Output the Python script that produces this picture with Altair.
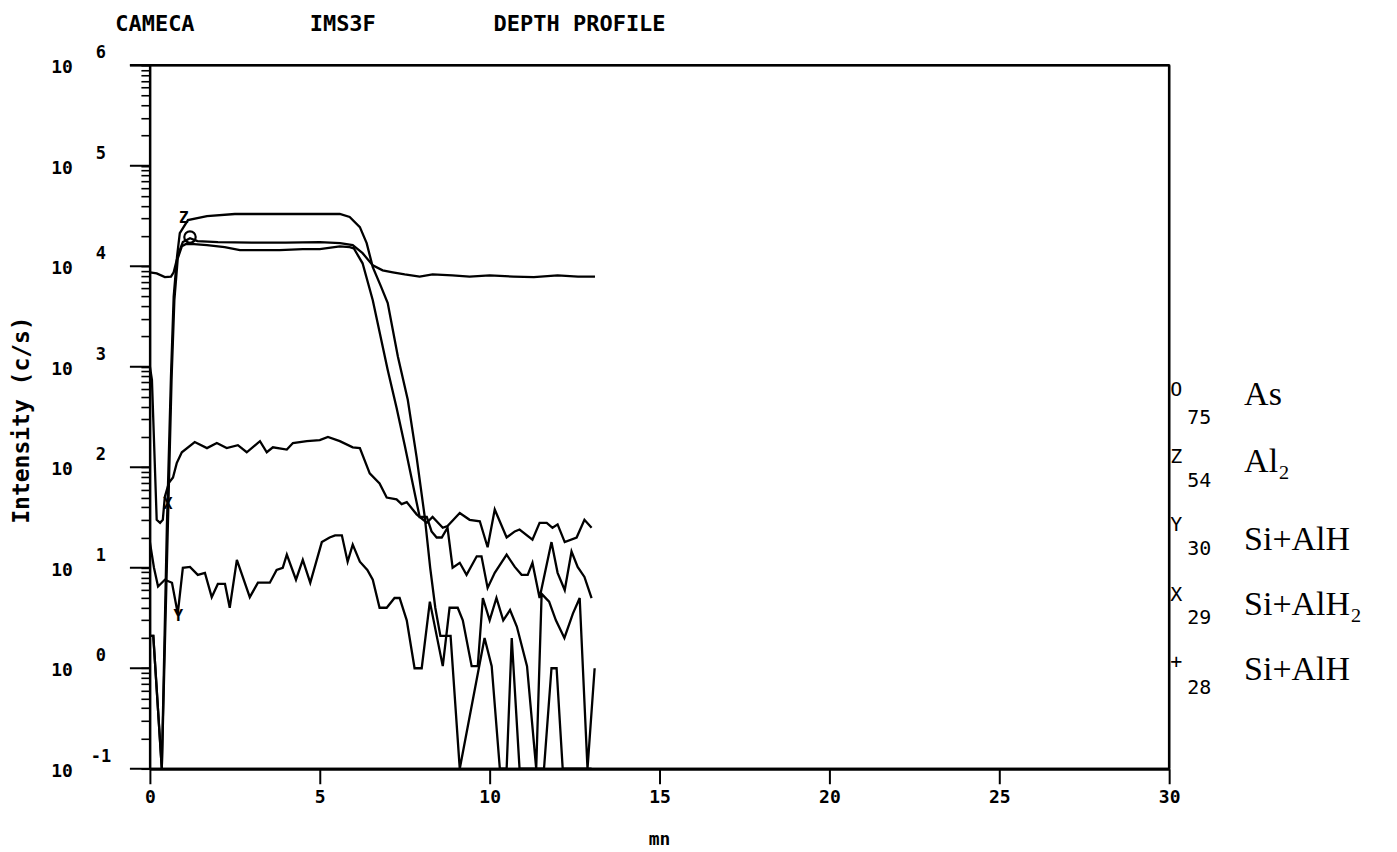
import altair as alt
import pandas as pd

# ---------------- data (time in mn, intensity in c/s) ----------------
# O 75 As
as_t = [0.0, 0.2, 0.44, 0.62, 0.7, 0.79, 0.88, 0.97, 1.18, 1.4, 2.0, 3.0, 4.0, 5.0, 5.6, 5.97,
        6.26, 6.56, 6.85, 7.15, 7.5, 7.94, 8.32, 8.9, 9.41, 10.0, 10.7, 11.3, 12.0, 12.6, 13.1]
as_v = [8700, 8500, 7800, 7900, 8700, 11500, 14500, 17400, 19000, 17800, 17400, 17200, 17200, 17400,
        17000, 16200, 13500, 10200, 9100, 8700, 8300, 7900, 8300, 8100, 7900, 8100, 7900, 7800, 8100,
        7900, 7900]

# Z 54 Al2
al2_t = [0.0, 0.1, 0.35, 0.5, 0.62, 0.7, 0.8, 0.88, 1.12, 1.68, 2.5, 3.5, 4.5, 5.59, 5.88, 6.18,
         6.38, 6.56, 6.8, 7.0, 7.3, 7.59, 7.85, 8.09, 8.25, 8.4, 8.55, 8.7, 8.85, 9.12, 9.85, 10.06,
         10.3, 10.5, 10.65, 10.88, 11.6, 11.82, 11.97, 12.15, 13.0]
al2_v = [2.1, 2.1, 0.1, 26, 800, 5000, 12600, 21400, 28800, 31600, 33100, 33100, 33100, 33100,
         30900, 24500, 17000, 9800, 6300, 4300, 1260, 470, 126, 32, 10, 4.0, 2.1, 2.1, 2.1, 0.1,
         2.0, 1.05, 0.1, 0.1, 2.0, 0.1, 0.1, 1.0, 1.0, 0.1, 0.1]

# Y 30 Si+AlH
y30_t = [0.0, 0.12, 0.24, 0.44, 0.65, 0.82, 0.97, 1.18, 1.41, 1.62, 1.82, 2.0, 2.21, 2.35, 2.56,
         2.94, 3.18, 3.53, 3.73, 3.91, 4.03, 4.3, 4.5, 4.72, 5.06, 5.29, 5.45, 5.65, 5.82, 5.97,
         6.18, 6.4, 6.56, 6.76, 6.97, 7.2, 7.35, 7.56, 7.79, 8.0, 8.24, 8.62, 8.82, 9.06, 9.21,
         9.47, 9.65, 9.8, 10.0, 10.2, 10.4, 10.6, 10.8, 11.1, 11.37, 11.53, 11.75, 11.95, 12.2,
         12.45, 12.65, 12.88, 13.09]
y30_v = [18, 10, 6.5, 7.6, 7.1, 3.5, 10, 10.2, 8.5, 8.9, 5.1, 6.9, 6.9, 4.0, 12, 5.1, 7.1, 7.1,
         9.5, 10, 13.5, 7.6, 12, 7.1, 18, 20, 21, 21, 11.5, 17, 11.5, 9.5, 7.6, 4.0, 4.0, 5.0, 5.0,
         3.0, 1.0, 1.0, 4.6, 1.05, 4.0, 4.0, 3.0, 1.05, 1.05, 5.0, 3.0, 5.0, 3.0, 3.8, 2.6, 1.05,
         0.1, 5.5, 4.6, 3.0, 2.0, 3.5, 5.0, 0.1, 1.0]

# X 29 Si+AlH2
x29_t = [0.0, 0.06, 0.2, 0.3, 0.38, 0.44, 0.56, 0.68, 0.79, 0.94, 1.32, 1.68, 1.97, 2.26, 2.59,
         2.85, 3.24, 3.44, 3.62, 4.03, 4.21, 4.62, 5.0, 5.24, 5.59, 5.97, 6.18, 6.47, 6.76, 6.97,
         7.26, 7.41, 7.56, 7.85, 8.15, 8.32, 8.62, 8.76, 9.12, 9.41, 9.71, 9.94, 10.15, 10.5,
         10.74, 10.88, 11.26, 11.47, 11.68, 11.85, 12.0, 12.21, 12.56, 12.79, 13.0]
x29_v = [1000, 740, 30, 28, 30, 51, 70, 79, 110, 141, 178, 155, 174, 155, 166, 141, 182, 141, 158,
         150, 174, 182, 186, 200, 182, 158, 155, 87, 69, 50, 48, 43, 45, 34, 28, 32, 25, 26, 35,
         30, 29, 16, 38, 20, 23, 24, 19, 28, 28, 25, 27, 18, 20, 30, 25]

# + 28 Si+AlH
p28_t = [0.0, 0.1, 0.35, 0.52, 0.64, 0.72, 0.82, 0.94, 1.05, 1.3, 1.68, 2.2, 2.65, 3.3, 3.82, 4.5,
         5.0, 5.59, 5.88, 6.0, 6.26, 6.56, 7.0, 7.26, 7.5, 7.94, 8.15, 8.29, 8.44, 8.59, 8.76,
         8.91, 9.12, 9.32, 9.62, 9.76, 9.94, 10.15, 10.5, 10.74, 10.94, 11.12, 11.26, 11.47,
         11.82, 12.0, 12.21, 12.41, 12.59, 12.79, 13.0]
p28_v = [2.1, 2.1, 0.1, 20, 800, 4600, 12000, 15800, 16600, 16600, 16200, 15500, 14500, 14500,
         14500, 14800, 14800, 15800, 15500, 15100, 10700, 4600, 930, 390, 166, 32, 32, 23, 20, 20,
         25, 10, 11.2, 8.5, 13, 13, 6.3, 8.9, 13.5, 10.2, 8.5, 8.5, 11.2, 5.0, 18, 8.9, 6.0, 14.5,
         10.2, 8.1, 5.0]

# axis labels
x_ticks = [0, 5, 10, 15, 20, 25, 30]
decade_values = [0.1, 1, 10, 100, 1000, 10000, 100000, 1000000]
decade_exps = ["-1", "0", "1", "2", "3", "4", "5", "6"]

# curve markers (letter, time, intensity)
mark_letters = ["Z", "X", "Y"]
mark_t = [1.0, 0.53, 0.84]
mark_v = [30000, 43, 3.3]
circle_t = [1.18]
circle_v = [19500]

# legend
leg_marks = ["O", "Z", "Y", "X", "+"]
leg_mass = ["75", "54", "30", "29", "28"]
leg_names = ["As", "Al\u2082", "Si+AlH", "Si+AlH\u2082", "Si+AlH"]

# ---------------- build ----------------
series = [("As", as_t, as_v), ("Al2", al2_t, al2_v), ("Si30", y30_t, y30_v),
          ("Si29", x29_t, x29_v), ("Si28", p28_t, p28_v)]
rows = []
for name, ts, vs in series:
    for t, v in zip(ts, vs):
        rows.append({"series": name, "t": t, "v": v})
df = pd.DataFrame(rows)

W, H = 1020, 704
MONO = "DejaVu Sans Mono"
SERIF = "Liberation Serif"
xs = alt.Scale(domain=[0, 30], nice=False, zero=False)
ys = alt.Scale(type="log", domain=[0.1, 1e6], nice=False)

minor_ticks = [m * 10.0 ** e for e in range(-1, 6) for m in range(1, 10)] + [1e6]

x_axis = alt.Axis(
    values=x_ticks, tickSize=15, tickWidth=2, tickColor="black",
    labelFont=MONO, labelFontSize=18, labelFontWeight="bold", labelColor="black",
    labelPadding=5, labelFlush=False, domainWidth=3, domainColor="black",
    grid=False, title=None)
y_axis = alt.Axis(
    values=minor_ticks, tickSize=9, tickWidth=1.6, tickColor="black", labels=False,
    domainWidth=2, domainColor="black", grid=False, title=None)

lines = alt.Chart(df).mark_line(color="black", strokeWidth=2.3, clip=True).encode(
    x=alt.X("t:Q", scale=xs, axis=x_axis),
    y=alt.Y("v:Q", scale=ys, axis=y_axis),
    detail="series:N",
)

dec_df = pd.DataFrame({"v": decade_values, "e": decade_exps})
major = alt.Chart(dec_df).mark_rule(color="black", strokeWidth=2).encode(
    y=alt.Y("v:Q", scale=ys, axis=y_axis), x=alt.value(-20), x2=alt.value(0))
tens = alt.Chart(dec_df).mark_text(font=MONO, fontSize=18, fontWeight="bold", align="center",
                                   baseline="middle", dy=3, color="black").encode(
    y=alt.Y("v:Q", scale=ys, axis=y_axis), x=alt.value(-88), text=alt.value("10"))
exps = alt.Chart(dec_df).mark_text(font=MONO, fontSize=17, fontWeight="bold", align="center",
                                   baseline="middle", dy=-12, color="black").encode(
    y=alt.Y("v:Q", scale=ys, axis=y_axis), x=alt.value(-49), text="e:N")

mk_df = pd.DataFrame({"t": mark_t, "v": mark_v, "m": mark_letters})
mk = alt.Chart(mk_df).mark_text(font=MONO, fontSize=16, fontWeight="bold", color="black",
                                baseline="middle", align="center").encode(
    x=alt.X("t:Q", scale=xs, axis=x_axis), y=alt.Y("v:Q", scale=ys, axis=y_axis), text="m:N")
circ_df = pd.DataFrame({"t": circle_t, "v": circle_v})
circ = alt.Chart(circ_df).mark_point(shape="circle", size=130, filled=False, color="black",
                                     opacity=1, strokeWidth=2.2).encode(
    x=alt.X("t:Q", scale=xs, axis=x_axis), y=alt.Y("v:Q", scale=ys, axis=y_axis))

dummy = pd.DataFrame({"k": [0]})

# frame (top and right edges of the plotting box)
frame_top = alt.Chart(dummy).mark_rule(color="black", strokeWidth=2.5).encode(
    x=alt.value(-20), x2=alt.value(W), y=alt.value(0))
frame_right = alt.Chart(dummy).mark_rule(color="black", strokeWidth=2.5).encode(
    x=alt.value(W), y=alt.value(0), y2=alt.value(H))


def note(txt, x, y, size, font=MONO, align="center", weight="bold", angle=0):
    return alt.Chart(dummy).mark_text(text=txt, font=font, fontSize=size, fontWeight=weight,
                                      align=align, baseline="middle", angle=angle,
                                      color="black").encode(x=alt.value(x), y=alt.value(y))


notes = [
    note("CAMECA", 5, -41, 22),
    note("IMS3F", 193, -41, 22),
    note("DEPTH PROFILE", 430, -41, 22),
    note("Intensity (c/s)", -128, 355, 23, angle=270),
    note("mn", 510, 775, 18),
]
leg_mark_y = [325, 392, 460, 530, 597]
leg_sub_y = [353, 416, 484, 553, 623]
leg_name_y = [330, 397, 475, 540, 605]
for i in range(5):
    notes.append(note(leg_marks[i], 1027, leg_mark_y[i], 20, weight="normal"))
    notes.append(note(leg_mass[i], 1038, leg_sub_y[i], 20, align="left", weight="normal"))
    notes.append(note(leg_names[i], 1095, leg_name_y[i], 34, font=SERIF, align="left",
                      weight="normal"))

chart = alt.layer(lines, major, tens, exps, mk, circ, frame_top, frame_right, *notes).properties(
    width=W, height=H,
    background="white",
    autosize=alt.AutoSizeParams(type="none"),
    padding={"left": 142, "top": 57, "right": 220, "bottom": 80},
).configure_view(stroke="black", strokeWidth=2)

chart.save("out.html", embed_options={"renderer": "svg", "actions": False})
